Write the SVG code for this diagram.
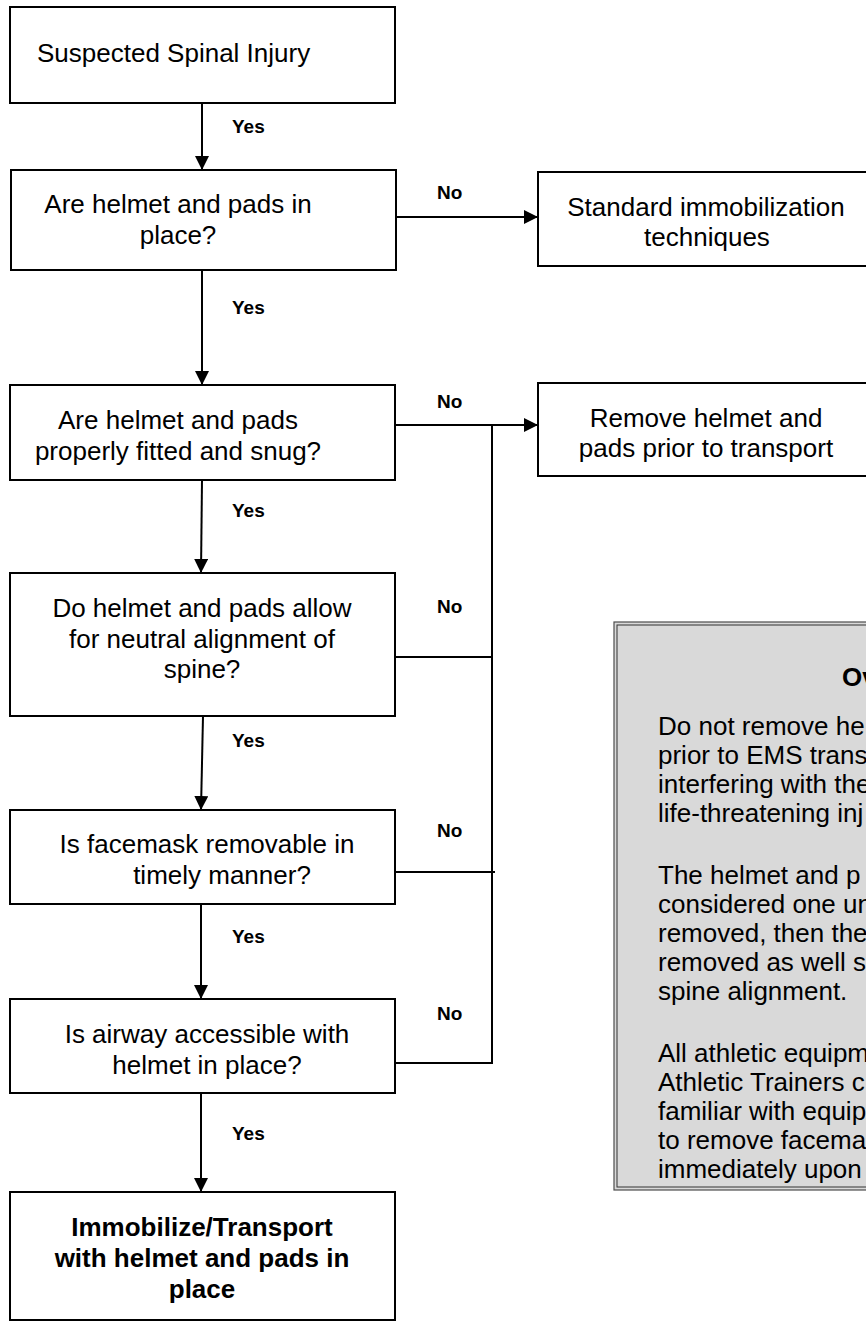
<svg xmlns="http://www.w3.org/2000/svg" width="866" height="1327" viewBox="0 0 866 1327">
  <style>
    .box { fill: #ffffff; stroke: #000000; stroke-width: 2; }
    .t { font-family: "Liberation Sans", Arial, sans-serif; font-size: 26px; fill: #000000; }
    .c { text-anchor: middle; }
    .b { font-weight: bold; }
    .lbl { font-family: "Liberation Sans", Arial, sans-serif; font-size: 19px; font-weight: bold; fill: #000000; }
    .ln { fill: none; stroke: #000000; stroke-width: 2; }
    .arr { marker-end: url(#head); }
    .note { fill: #d9d9d9; stroke: #4d4d4d; stroke-width: 1.2; }
    .note-in { fill: none; stroke: #333333; stroke-width: 1; }
  </style>
  <defs>
    <marker id="head" viewBox="0 0 14 14" refX="14" refY="7" markerWidth="14" markerHeight="14" markerUnits="userSpaceOnUse" orient="auto">
      <path d="M0,0 L14,7 L0,14 Z" fill="#000000"/>
    </marker>
  </defs>
  <rect width="866" height="1327" fill="#ffffff"/>

  <!-- connectors -->
  <g id="connectors">
    <line class="ln arr" x1="202" y1="103" x2="202" y2="170"/>
    <line class="ln arr" x1="396" y1="217" x2="538" y2="217"/>
    <line class="ln arr" x1="202" y1="270" x2="202" y2="385"/>
    <line class="ln arr" x1="395" y1="425" x2="538" y2="425"/>
    <line class="ln arr" x1="202" y1="480" x2="201" y2="573"/>
    <line class="ln" x1="395" y1="657" x2="492" y2="657"/>
    <line class="ln arr" x1="203" y1="716" x2="201" y2="810"/>
    <line class="ln" x1="395" y1="872" x2="495" y2="872"/>
    <line class="ln arr" x1="201" y1="904" x2="201" y2="999"/>
    <line class="ln" x1="395" y1="1063" x2="493" y2="1063"/>
    <line class="ln" x1="492" y1="425" x2="492" y2="1064"/>
    <line class="ln arr" x1="201" y1="1093" x2="201" y2="1192"/>

    <text class="lbl" x="232" y="133">Yes</text>
    <text class="lbl" x="232" y="314">Yes</text>
    <text class="lbl" x="232" y="517">Yes</text>
    <text class="lbl" x="232" y="747">Yes</text>
    <text class="lbl" x="232" y="943">Yes</text>
    <text class="lbl" x="232" y="1140">Yes</text>

    <text class="lbl" x="437" y="199">No</text>
    <text class="lbl" x="437" y="408">No</text>
    <text class="lbl" x="437" y="613">No</text>
    <text class="lbl" x="437" y="837">No</text>
    <text class="lbl" x="437" y="1020">No</text>
  </g>

  <g id="start">
    <rect class="box" x="10" y="7" width="385" height="96"/>
    <text class="t" x="37" y="62">Suspected Spinal Injury</text>
  </g>

  <g id="q-in-place">
    <rect class="box" x="11" y="170" width="385" height="100"/>
    <text class="t c" x="178" y="213">Are helmet and pads in</text>
    <text class="t c" x="178" y="244">place?</text>
  </g>

  <g id="standard">
    <rect class="box" x="538" y="172" width="340" height="94"/>
    <text class="t c" x="706" y="216">Standard immobilization</text>
    <text class="t c" x="707" y="246">techniques</text>
  </g>

  <g id="q-fitted">
    <rect class="box" x="10" y="385" width="385" height="95"/>
    <text class="t c" x="178" y="429">Are helmet and pads</text>
    <text class="t c" x="178" y="460">properly fitted and snug?</text>
  </g>

  <g id="remove">
    <rect class="box" x="538" y="383" width="340" height="93"/>
    <text class="t c" x="706" y="427">Remove helmet and</text>
    <text class="t c" x="706" y="457">pads prior to transport</text>
  </g>

  <g id="q-alignment">
    <rect class="box" x="10" y="573" width="385" height="143"/>
    <text class="t c" x="202" y="617">Do helmet and pads allow</text>
    <text class="t c" x="202" y="648">for neutral alignment of</text>
    <text class="t c" x="202" y="678">spine?</text>
  </g>

  <g id="q-facemask">
    <rect class="box" x="10" y="810" width="385" height="94"/>
    <text class="t c" x="207" y="853">Is facemask removable in</text>
    <text class="t c" x="222" y="884">timely manner?</text>
  </g>

  <g id="q-airway">
    <rect class="box" x="10" y="999" width="385" height="94"/>
    <text class="t c" x="207" y="1043">Is airway accessible with</text>
    <text class="t c" x="207" y="1074">helmet in place?</text>
  </g>

  <g id="immobilize">
    <rect class="box" x="10" y="1192" width="385" height="128"/>
    <text class="t c b" x="202" y="1236">Immobilize/Transport</text>
    <text class="t c b" x="202" y="1267">with helmet and pads in</text>
    <text class="t c b" x="202" y="1298">place</text>
  </g>

  <!-- side note, running off the right edge -->
  <g id="overview">
    <rect class="note" x="614" y="622" width="270" height="568"/>
    <rect class="note-in" x="617" y="625" width="264" height="562"/>
    <text class="t b" x="842" y="686">Ov</text>
    <text class="t" x="658" y="735">Do not remove he</text>
    <text class="t" x="658" y="764">prior to EMS trans</text>
    <text class="t" x="658" y="793">interfering with the</text>
    <text class="t" x="658" y="822">life-threatening inj</text>
    <text class="t" x="658" y="884">The helmet and p</text>
    <text class="t" x="658" y="913">considered one un</text>
    <text class="t" x="658" y="942">removed, then the</text>
    <text class="t" x="658" y="971">removed as well s</text>
    <text class="t" x="658" y="1000">spine alignment.</text>
    <text class="t" x="658" y="1062">All athletic equipm</text>
    <text class="t" x="658" y="1091">Athletic Trainers c</text>
    <text class="t" x="658" y="1120">familiar with equip</text>
    <text class="t" x="658" y="1149">to remove facema</text>
    <text class="t" x="658" y="1178">immediately upon</text>
  </g>
</svg>
